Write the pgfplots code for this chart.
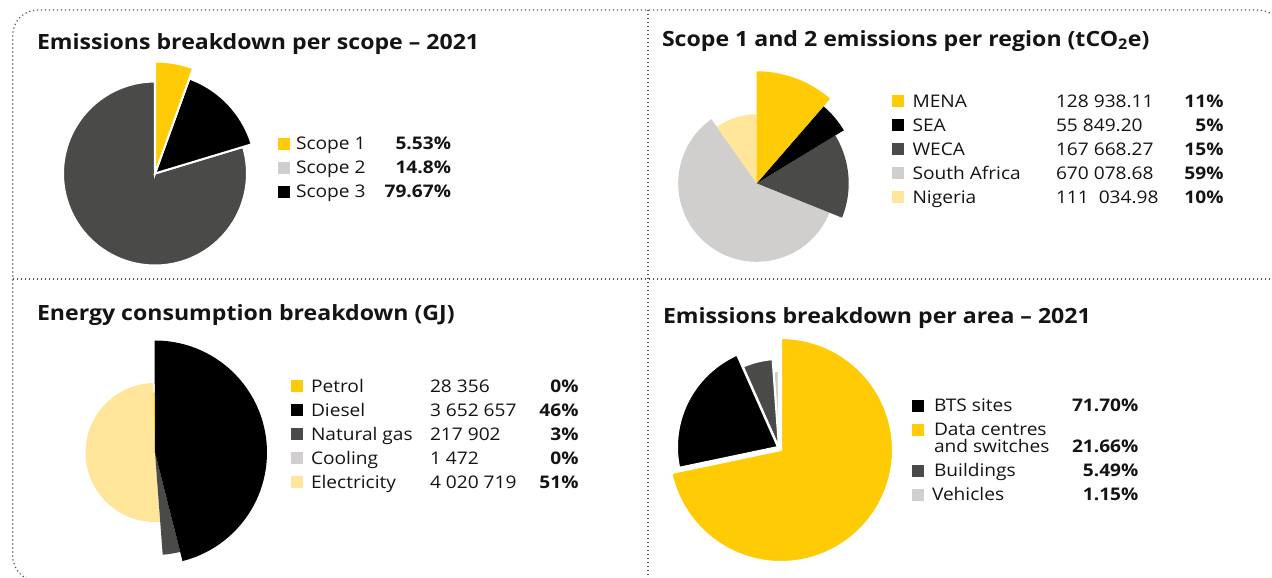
\documentclass[border=0pt]{standalone}
\usepackage{fontspec}
\setmainfont[FakeStretch=1.1]{Open Sans}
\usepackage{pgfplots}
\pgfplotsset{compat=1.18}
\definecolor{cY}{HTML}{FFCB05}
\definecolor{cDG}{HTML}{4A4A48}
\definecolor{cLG}{HTML}{D0CFCD}
\definecolor{cLY}{HTML}{FFE69A}
\definecolor{cK}{HTML}{000000}
\definecolor{txt}{HTML}{141414}
\definecolor{dotc}{HTML}{505050}
\newcommand\ttl{\fontsize{21bp}{24bp}\selectfont\bfseries}
\newcommand\leg{\fontsize{17.4bp}{20bp}\selectfont}
\newcommand\legb{\fontsize{17.4bp}{20bp}\selectfont\bfseries}
% slice: [opts]{colour}{cx}{cy}{r}{start angle}{end angle}  (angles clockwise from 12 o'clock)
\newcommand\slice[7][]{\addplot[fill=#2, draw=none, #1, domain=#6:#7, samples=90, variable=\t]
  ({#3+#5*sin(\t)},{#4-#5*cos(\t)}) -- (axis cs:#3,#4) -- cycle;}
\newcommand\sq[3]{\addplot[only marks, mark=square*, mark size=5.6bp, color=#1, mark options={fill=#1, draw=#1, line width=0.3bp}] coordinates {(#2,#3)};}
\begin{document}
\begin{tikzpicture}[every node/.style={inner sep=0pt, outer sep=0pt, text=txt}]
\useasboundingbox (0,0) rectangle (1272bp,578bp);
\begin{axis}[at={(0,0)}, anchor=south west, x=1bp, y=1bp,
  xmin=0, xmax=1272, ymin=0, ymax=578, y dir=reverse,
  hide axis, clip=false]
% ---------- frame ----------
\draw[dotc, line width=1.2bp, dash pattern=on 1.2bp off 2.8bp, rounded corners=25bp]
  (axis cs:1283,581) -- (axis cs:12.7,581) -- (axis cs:12.7,10) -- (axis cs:1283,10) -- (axis cs:1283,581);
\draw[dotc, line width=1.2bp, dash pattern=on 1.2bp off 2.8bp] (axis cs:12.7,279) -- (axis cs:1272,279);
\draw[dotc, line width=1.2bp, dash pattern=on 1.2bp off 2.8bp] (axis cs:648,10) -- (axis cs:648,578);

% ---------- Pie 1: emissions per scope (5.53, 14.8, 79.67 %) ----------
\slice[draw=white, line width=2bp]{cDG}{155}{173.5}{92}{73.19}{360}
\slice[draw=white, line width=2bp]{cK}{155}{173.5}{101}{19.91}{73.19}
\slice[draw=white, line width=2bp]{cY}{155}{173.5}{112}{0}{19.91}
\node[anchor=base west, font=\ttl] at (axis cs:37,49.3) {Emissions breakdown per scope – 2021};
\sq{cY}{283.5}{143.5}
\sq{cLG}{283.5}{167.5}
\sq{cK}{283.5}{191.5}
\node[anchor=base west, font=\leg] at (axis cs:296,149.3) {Scope 1};
\node[anchor=base west, font=\leg] at (axis cs:296,173.3) {Scope 2};
\node[anchor=base west, font=\leg] at (axis cs:296,197.3) {Scope 3};
\node[anchor=base east, font=\legb] at (axis cs:451,149.3) {5.53\%};
\node[anchor=base east, font=\legb] at (axis cs:451,173.3) {14.8\%};
\node[anchor=base east, font=\legb] at (axis cs:451,197.3) {79.67\%};

% ---------- Pie 2: scope 1 and 2 per region ----------
\slice{cLG}{756.7}{183.3}{78.5}{111.94}{324.75}
\slice{cLY}{756.7}{183.3}{69}{324.75}{360}
\slice{cDG}{756.7}{183.3}{92}{58.69}{111.94}
\slice{cK}{756.7}{183.3}{102}{40.95}{58.69}
\slice{cY}{756.7}{183.3}{112}{0}{40.95}
\node[anchor=base west, font=\ttl] at (axis cs:662,46) {Scope 1 and 2 emissions per region (tCO\textsubscript{2}e)};
\sq{cY}{898}{100.7}
\sq{cK}{898}{125}
\sq{cDG}{898}{149}
\sq{cLG}{898}{173}
\sq{cLY}{898}{197}
\node[anchor=base west, font=\leg] at (axis cs:912.5,107) {MENA};
\node[anchor=base west, font=\leg] at (axis cs:912.5,131.3) {SEA};
\node[anchor=base west, font=\leg] at (axis cs:912.5,155.3) {WECA};
\node[anchor=base west, font=\leg] at (axis cs:912.5,179.3) {South Africa};
\node[anchor=base west, font=\leg] at (axis cs:912.5,203.3) {Nigeria};
\node[anchor=base west, font=\leg] at (axis cs:1056,107) {128 938.11};
\node[anchor=base west, font=\leg] at (axis cs:1056,131.3) {55 849.20};
\node[anchor=base west, font=\leg] at (axis cs:1056,155.3) {167 668.27};
\node[anchor=base west, font=\leg] at (axis cs:1056,179.3) {670 078.68};
\node[anchor=base west, font=\leg] at (axis cs:1056,203.3) {111\ \ 034.98};
\node[anchor=base east, font=\legb] at (axis cs:1223.5,107) {11\%};
\node[anchor=base east, font=\legb] at (axis cs:1223.5,131.3) {5\%};
\node[anchor=base east, font=\legb] at (axis cs:1223.5,155.3) {15\%};
\node[anchor=base east, font=\legb] at (axis cs:1223.5,179.3) {59\%};
\node[anchor=base east, font=\legb] at (axis cs:1223.5,203.3) {10\%};

% ---------- Pie 3: energy consumption (GJ) ----------
\slice{cLY}{155}{452.5}{69.5}{175.76}{358.5}
\slice{cLG}{155}{452.5}{60}{175.69}{175.76}
\slice{cDG}{155}{452.5}{102.5}{165.79}{175.69}
\slice{cK}{155}{452.5}{112}{-0.21}{165.79}
\slice{cY}{155}{452.5}{60}{-1.5}{-0.21}
\node[anchor=base west, font=\ttl] at (axis cs:37,320.7) {Energy consumption breakdown (GJ)};
\sq{cY}{296.5}{386}
\sq{cK}{296.5}{410}
\sq{cDG}{296.5}{434}
\sq{cLG}{296.5}{457.7}
\sq{cLY}{296.5}{482}
\node[anchor=base west, font=\leg] at (axis cs:311,392.3) {Petrol};
\node[anchor=base west, font=\leg] at (axis cs:311,416.3) {Diesel};
\node[anchor=base west, font=\leg] at (axis cs:311,440.3) {Natural gas};
\node[anchor=base west, font=\leg] at (axis cs:311,464) {Cooling};
\node[anchor=base west, font=\leg] at (axis cs:311,488.3) {Electricity};
\node[anchor=base west, font=\leg] at (axis cs:430,392.3) {28 356};
\node[anchor=base west, font=\leg] at (axis cs:430,416.3) {3 652 657};
\node[anchor=base west, font=\leg] at (axis cs:430,440.3) {217 902};
\node[anchor=base west, font=\leg] at (axis cs:430,464) {1 472};
\node[anchor=base west, font=\leg] at (axis cs:430,488.3) {4 020 719};
\node[anchor=base east, font=\legb] at (axis cs:578.5,392.3) {0\%};
\node[anchor=base east, font=\legb] at (axis cs:578.5,416.3) {46\%};
\node[anchor=base east, font=\legb] at (axis cs:578.5,440.3) {3\%};
\node[anchor=base east, font=\legb] at (axis cs:578.5,464) {0\%};
\node[anchor=base east, font=\legb] at (axis cs:578.5,488.3) {51\%};

% ---------- Pie 4: emissions per area ----------
\slice[draw=white, line width=2bp]{cLG}{779}{448}{77}{355.86}{360}
\slice[draw=white, line width=2bp]{cDG}{779}{448}{89}{336.1}{355.86}
\slice[draw=white, line width=2bp]{cK}{778}{447}{101}{258.12}{336.1}
\slice[draw=white, line width=2bp]{cY}{781}{450}{112}{0}{258.12}
\node[anchor=base west, font=\ttl] at (axis cs:663,323.3) {Emissions breakdown per area – 2021};
\sq{cK}{918}{406}
\sq{cY}{918}{430}
\sq{cDG}{918}{471}
\sq{cLG}{918}{494.7}
\node[anchor=base west, font=\leg] at (axis cs:934,411.7) {BTS sites};
\node[anchor=base west, font=\leg] at (axis cs:934,435.7) {Data centres};
\node[anchor=base west, font=\leg] at (axis cs:934,452.3) {and switches};
\node[anchor=base west, font=\leg] at (axis cs:934,476.7) {Buildings};
\node[anchor=base west, font=\leg] at (axis cs:932,500.7) {Vehicles};
\node[anchor=base east, font=\legb] at (axis cs:1138.4,411.7) {71.70\%};
\node[anchor=base east, font=\legb] at (axis cs:1138.4,452.3) {21.66\%};
\node[anchor=base east, font=\legb] at (axis cs:1138.4,476.7) {5.49\%};
\node[anchor=base east, font=\legb] at (axis cs:1138.4,500.7) {1.15\%};
\end{axis}
\end{tikzpicture}
\end{document}
